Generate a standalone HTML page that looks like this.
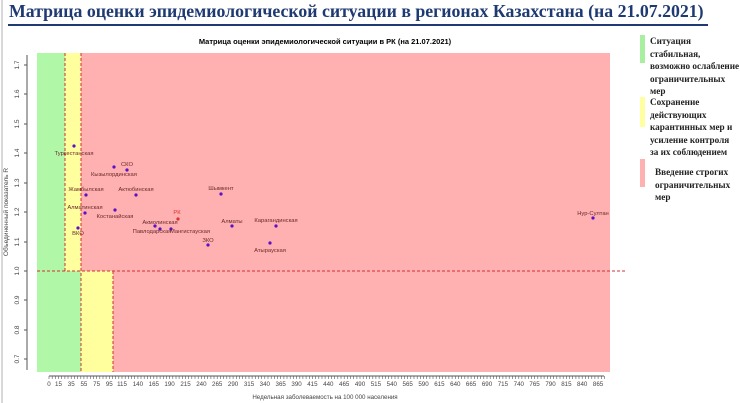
<!DOCTYPE html>
<html><head><meta charset="utf-8"><style>
body{margin:0;background:#fff;width:740px;height:403px;overflow:hidden;position:relative}
.t{position:absolute;left:9px;top:1px;font:bold 17.8px "Liberation Serif","Noto Serif CJK SC",serif;color:#1f3a72;white-space:nowrap}
.ul{position:absolute;left:8px;top:24px;width:700px;height:2px;background:#1f3a72}
.lg{position:absolute;font:bold 9.2px/12.5px "Liberation Serif",serif;color:#222;white-space:nowrap}
.bar{position:absolute;width:5px}
</style></head><body>
<div style="position:absolute;left:1px;top:0;width:2px;height:403px;background:#d8d8d8"></div>
<div class="t">Матрица оценки эпидемиологической ситуации в регионах Казахстана (на 21.07.2021)</div>
<div class="ul"></div>
<svg width="740" height="403" style="position:absolute;left:0;top:0" font-family="Liberation Sans, sans-serif">
<text x="325" y="44" font-size="7.5" font-weight="bold" text-anchor="middle">Матрица оценки эпидемиологической ситуации в РК (на 21.07.2021)</text>
<rect x="37" y="53" width="573" height="319" fill="#ffb0b0"/>
<rect x="37" y="53" width="28" height="218" fill="#b0f8a8"/>
<rect x="65" y="53" width="16" height="218" fill="#ffff9e"/>
<rect x="37" y="271" width="44" height="101" fill="#b0f8a8"/>
<rect x="81" y="271" width="32" height="101" fill="#ffff9e"/>
<g stroke="#d03030" stroke-width="1" stroke-dasharray="3,2">
<line x1="65" y1="53" x2="65" y2="271"/><line x1="81" y1="53" x2="81" y2="372"/><line x1="113" y1="271" x2="113" y2="372"/>
<line x1="37" y1="271" x2="626" y2="271"/></g>
<line x1="27" y1="55" x2="27" y2="370" stroke="#555"/>
<g stroke="#555"><line x1="24" y1="65" x2="27" y2="65"/><line x1="24" y1="94" x2="27" y2="94"/><line x1="24" y1="124" x2="27" y2="124"/><line x1="24" y1="153" x2="27" y2="153"/><line x1="24" y1="183" x2="27" y2="183"/><line x1="24" y1="212" x2="27" y2="212"/><line x1="24" y1="242" x2="27" y2="242"/><line x1="24" y1="271" x2="27" y2="271"/><line x1="24" y1="300" x2="27" y2="300"/><line x1="24" y1="330" x2="27" y2="330"/><line x1="24" y1="359" x2="27" y2="359"/></g>
<g font-size="6.5" fill="#444" text-anchor="middle">
<text transform="translate(19,65) rotate(-90)">1.7</text><text transform="translate(19,94) rotate(-90)">1.6</text><text transform="translate(19,124) rotate(-90)">1.5</text><text transform="translate(19,153) rotate(-90)">1.4</text><text transform="translate(19,183) rotate(-90)">1.3</text><text transform="translate(19,212) rotate(-90)">1.2</text><text transform="translate(19,242) rotate(-90)">1.1</text><text transform="translate(19,271) rotate(-90)">1.0</text><text transform="translate(19,300) rotate(-90)">0.9</text><text transform="translate(19,330) rotate(-90)">0.8</text><text transform="translate(19,359) rotate(-90)">0.7</text>
<text transform="translate(8,212) rotate(-90)">Объединенный показатель R</text>
</g>
<line x1="49" y1="376" x2="604" y2="376" stroke="#555"/>
<path stroke="#555" stroke-width="0.6" d="M49,376v3M52.2,376v3M55.4,376v3M58.5,376v3M61.7,376v3M64.9,376v3M68,376v3M71.2,376v3M74.4,376v3M77.6,376v3M80.8,376v3M83.9,376v3M87.1,376v3M90.3,376v3M93.4,376v3M96.6,376v3M99.8,376v3M103,376v3M106.1,376v3M109.3,376v3M112.5,376v3M115.7,376v3M118.8,376v3M122,376v3M125.2,376v3M128.4,376v3M131.5,376v3M134.7,376v3M137.9,376v3M141,376v3M144.2,376v3M147.4,376v3M150.6,376v3M153.8,376v3M156.9,376v3M160.1,376v3M163.3,376v3M166.4,376v3M169.6,376v3M172.8,376v3M176,376v3M179.1,376v3M182.3,376v3M185.5,376v3M188.7,376v3M191.8,376v3M195,376v3M198.2,376v3M201.4,376v3M204.5,376v3M207.7,376v3M210.9,376v3M214,376v3M217.2,376v3M220.4,376v3M223.6,376v3M226.8,376v3M229.9,376v3M233.1,376v3M236.3,376v3M239.4,376v3M242.6,376v3M245.8,376v3M249,376v3M252.1,376v3M255.3,376v3M258.5,376v3M261.7,376v3M264.8,376v3M268,376v3M271.2,376v3M274.4,376v3M277.5,376v3M280.7,376v3M283.9,376v3M287,376v3M290.2,376v3M293.4,376v3M296.6,376v3M299.8,376v3M302.9,376v3M306.1,376v3M309.3,376v3M312.4,376v3M315.6,376v3M318.8,376v3M322,376v3M325.1,376v3M328.3,376v3M331.5,376v3M334.7,376v3M337.8,376v3M341,376v3M344.2,376v3M347.4,376v3M350.5,376v3M353.7,376v3M356.9,376v3M360,376v3M363.2,376v3M366.4,376v3M369.6,376v3M372.8,376v3M375.9,376v3M379.1,376v3M382.3,376v3M385.4,376v3M388.6,376v3M391.8,376v3M395,376v3M398.1,376v3M401.3,376v3M404.5,376v3M407.7,376v3M410.8,376v3M414,376v3M417.2,376v3M420.4,376v3M423.5,376v3M426.7,376v3M429.9,376v3M433,376v3M436.2,376v3M439.4,376v3M442.6,376v3M445.8,376v3M448.9,376v3M452.1,376v3M455.3,376v3M458.4,376v3M461.6,376v3M464.8,376v3M468,376v3M471.1,376v3M474.3,376v3M477.5,376v3M480.7,376v3M483.8,376v3M487,376v3M490.2,376v3M493.4,376v3M496.5,376v3M499.7,376v3M502.9,376v3M506,376v3M509.2,376v3M512.4,376v3M515.6,376v3M518.8,376v3M521.9,376v3M525.1,376v3M528.3,376v3M531.4,376v3M534.6,376v3M537.8,376v3M541,376v3M544.1,376v3M547.3,376v3M550.5,376v3M553.7,376v3M556.8,376v3M560,376v3M563.2,376v3M566.4,376v3M569.5,376v3M572.7,376v3M575.9,376v3M579,376v3M582.2,376v3M585.4,376v3M588.6,376v3M591.8,376v3M594.9,376v3M598.1,376v3M601.3,376v3M604.5,376v3"/>
<g font-size="6.2" fill="#444" text-anchor="middle">
<text x="49" y="386">0</text><text x="58.5" y="386">15</text><text x="71.2" y="386">35</text><text x="83.9" y="386">55</text><text x="96.6" y="386">75</text><text x="109.3" y="386">95</text><text x="122" y="386">115</text><text x="137.9" y="386">140</text><text x="153.8" y="386">165</text><text x="169.6" y="386">190</text><text x="185.5" y="386">215</text><text x="201.4" y="386">240</text><text x="217.2" y="386">265</text><text x="233.1" y="386">290</text><text x="249" y="386">315</text><text x="264.8" y="386">340</text><text x="280.7" y="386">365</text><text x="296.6" y="386">390</text><text x="312.4" y="386">415</text><text x="328.3" y="386">440</text><text x="344.2" y="386">465</text><text x="360" y="386">490</text><text x="375.9" y="386">515</text><text x="391.8" y="386">540</text><text x="407.7" y="386">565</text><text x="423.5" y="386">590</text><text x="439.4" y="386">615</text><text x="455.3" y="386">640</text><text x="471.1" y="386">665</text><text x="487" y="386">690</text><text x="502.9" y="386">715</text><text x="518.8" y="386">740</text><text x="534.6" y="386">765</text><text x="550.5" y="386">790</text><text x="566.4" y="386">815</text><text x="582.2" y="386">840</text><text x="598.1" y="386">865</text>
<text x="325" y="399">Недельная заболеваемость на 100 000 населения</text>
</g>
<g fill="#5a12c8"><circle cx="74" cy="146" r="1.6"/><circle cx="127" cy="170" r="1.6"/><circle cx="114" cy="167" r="1.6"/><circle cx="86" cy="195" r="1.6"/><circle cx="136" cy="195" r="1.6"/><circle cx="221" cy="194" r="1.6"/><circle cx="85" cy="213" r="1.6"/><circle cx="115" cy="210" r="1.6"/><circle cx="155" cy="226" r="1.6"/><circle cx="160" cy="229" r="1.6"/><circle cx="171" cy="229" r="1.6"/><circle cx="232" cy="226" r="1.6"/><circle cx="276" cy="226" r="1.6"/><circle cx="208" cy="245" r="1.6"/><circle cx="270" cy="243" r="1.6"/><circle cx="78" cy="228" r="1.6"/><circle cx="593" cy="218" r="1.6"/></g>
<circle cx="178" cy="219" r="1.6" fill="#e03030"/>
<g font-size="5.8" fill="#6a2a2a" text-anchor="middle">
<text x="74" y="155">Туркестанская</text><text x="127" y="166">СКО</text><text x="114" y="176">Кызылординская</text><text x="86" y="191">Жамбылская</text><text x="136" y="191">Актюбинская</text><text x="221" y="190">Шымкент</text><text x="85" y="209">Алматинская</text><text x="115" y="218">Костанайская</text><text x="160" y="224">Акмолинская</text><text x="152" y="233">Павлодарская</text><text x="190" y="233">Мангистауская</text><text x="232" y="223">Алматы</text><text x="276" y="222">Карагандинская</text><text x="208" y="242">ЗКО</text><text x="270" y="252">Атырауская</text><text x="78" y="235">ВКО</text><text x="593" y="215">Нур-Султан</text>
<text x="177" y="214" fill="#e03030">РК</text></g>
</svg>
<div class="bar" style="left:640px;top:35px;height:28px;background:#a8f0a0"></div>
<div class="bar" style="left:640px;top:97px;height:30px;background:#ffffa0"></div>
<div class="bar" style="left:640px;top:159px;height:28px;background:#ffb0b0"></div>
<div class="lg" style="left:650px;top:35px">Ситуация<br>стабильная,<br>возможно ослабление<br>ограничительных<br>мер</div>
<div class="lg" style="left:650px;top:96px">Сохранение<br>действующих<br>карантинных мер и<br>усиление контроля<br>за их соблюдением</div>
<div class="lg" style="left:655px;top:166px">Введение строгих<br>ограничительных<br>мер</div>
</body></html>
